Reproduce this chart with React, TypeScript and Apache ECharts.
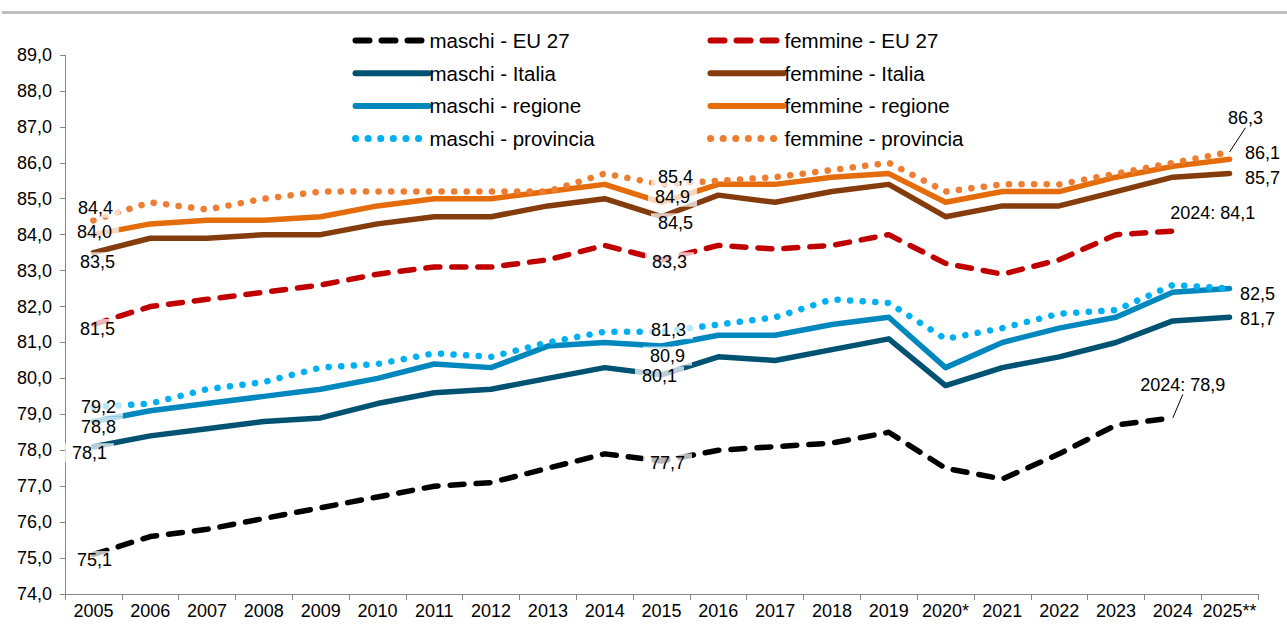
import React, { useEffect, useRef } from 'react';
import * as echarts from 'echarts';

const years = ['2005', '2006', '2007', '2008', '2009', '2010', '2011', '2012', '2013', '2014', '2015', '2016', '2017', '2018', '2019', '2020*', '2021', '2022', '2023', '2024', '2025**'];

const maschiEU = [75.1, 75.6, 75.8, 76.1, 76.4, 76.7, 77.0, 77.1, 77.5, 77.9, 77.7, 78.0, 78.1, 78.2, 78.5, 77.5, 77.2, 77.9, 78.7, 78.9, null];
const femmineEU = [81.5, 82.0, 82.2, 82.4, 82.6, 82.9, 83.1, 83.1, 83.3, 83.7, 83.3, 83.7, 83.6, 83.7, 84.0, 83.2, 82.9, 83.3, 84.0, 84.1, null];
const maschiItalia = [78.1, 78.4, 78.6, 78.8, 78.9, 79.3, 79.6, 79.7, 80.0, 80.3, 80.1, 80.6, 80.5, 80.8, 81.1, 79.8, 80.3, 80.6, 81.0, 81.6, 81.7];
const femmineItalia = [83.5, 83.9, 83.9, 84.0, 84.0, 84.3, 84.5, 84.5, 84.8, 85.0, 84.5, 85.1, 84.9, 85.2, 85.4, 84.5, 84.8, 84.8, 85.2, 85.6, 85.7];
const maschiRegione = [78.8, 79.1, 79.3, 79.5, 79.7, 80.0, 80.4, 80.3, 80.9, 81.0, 80.9, 81.2, 81.2, 81.5, 81.7, 80.3, 81.0, 81.4, 81.7, 82.4, 82.5];
const femmineRegione = [84.0, 84.3, 84.4, 84.4, 84.5, 84.8, 85.0, 85.0, 85.2, 85.4, 84.9, 85.4, 85.4, 85.6, 85.7, 84.9, 85.2, 85.2, 85.6, 85.9, 86.1];
const maschiProvincia = [79.2, 79.3, 79.7, 79.9, 80.3, 80.4, 80.7, 80.6, 81.0, 81.3, 81.3, 81.5, 81.7, 82.2, 82.1, 81.1, 81.4, 81.8, 81.9, 82.6, 82.5];
const femmineProvincia = [84.4, 84.9, 84.7, 85.0, 85.2, 85.2, 85.2, 85.2, 85.2, 85.7, 85.4, 85.5, 85.6, 85.8, 86.0, 85.2, 85.4, 85.4, 85.7, 86.0, 86.3];

const seriesNames = ['maschi - EU 27', 'femmine - EU 27', 'maschi - Italia', 'femmine - Italia', 'maschi - regione', 'femmine - regione', 'maschi - provincia', 'femmine - provincia'];

const FONT = '"Liberation Sans", Arial, sans-serif';
const fmt = (v: number) => v.toFixed(1).replace('.', ',');

type LabelSpec = { i: number; dx: number; dy: number; prefix?: string; guide?: boolean };

// label placement (style only)
const labelSpecs: Record<string, LabelSpec[]> = {
  'maschi - EU 27': [{ i: 0, dx: 1, dy: 6 }, { i: 10, dx: 6, dy: 2 }, { i: 19, dx: 10, dy: -33, prefix: '2024: ', guide: true }],
  'femmine - EU 27': [{ i: 0, dx: 4, dy: 4 }, { i: 10, dx: 8, dy: 2 }, { i: 19, dx: 40, dy: -18, prefix: '2024: ' }],
  'maschi - Italia': [{ i: 0, dx: -4, dy: 6 }, { i: 10, dx: -2, dy: 1 }, { i: 20, dx: 28, dy: 2 }],
  'femmine - Italia': [{ i: 0, dx: 4, dy: 9 }, { i: 10, dx: 14, dy: 6 }, { i: 20, dx: 33, dy: 4 }],
  'maschi - regione': [{ i: 0, dx: 5, dy: 5 }, { i: 10, dx: 6, dy: 10 }, { i: 20, dx: 28, dy: 5 }],
  'femmine - regione': [{ i: 0, dx: 1, dy: -3 }, { i: 10, dx: 11, dy: -5 }, { i: 20, dx: 33, dy: -6 }],
  'maschi - provincia': [{ i: 0, dx: 5, dy: 0 }, { i: 10, dx: 7, dy: -2 }],
  'femmine - provincia': [{ i: 0, dx: 2, dy: -12 }, { i: 10, dx: 14, dy: -7 }, { i: 20, dx: 16, dy: -34, guide: true }],
};

const styles: Record<string, { color: string; dash: any; width: number }> = {
  'maschi - EU 27': { color: '#000000', dash: [14, 12], width: 5.5 },
  'femmine - EU 27': { color: '#C00000', dash: [14, 12], width: 5.5 },
  'maschi - Italia': { color: '#005273', dash: 'solid', width: 5.5 },
  'femmine - Italia': { color: '#843C0C', dash: 'solid', width: 5.5 },
  'maschi - regione': { color: '#0087BD', dash: 'solid', width: 5.5 },
  'femmine - regione': { color: '#E46C0A', dash: 'solid', width: 5.5 },
  'maschi - provincia': { color: '#00B0F0', dash: [0.1, 12.5], width: 6.5 },
  'femmine - provincia': { color: '#ED7D31', dash: [0.1, 12.5], width: 6.5 },
};

const values: Record<string, (number | null)[]> = {
  'maschi - EU 27': maschiEU,
  'femmine - EU 27': femmineEU,
  'maschi - Italia': maschiItalia,
  'femmine - Italia': femmineItalia,
  'maschi - regione': maschiRegione,
  'femmine - regione': femmineRegione,
  'maschi - provincia': maschiProvincia,
  'femmine - provincia': femmineProvincia,
};

function buildData(vals: (number | null)[], specs: LabelSpec[]) {
  return vals.map((v, i) => {
    const s = specs.find((x) => x.i === i);
    if (!s || v == null) return v;
    const item: any = {
      value: v,
      symbol: 'circle',
      symbolSize: 0,
      label: {
        show: true,
        position: 'inside',
        offset: [s.dx, s.dy],
        formatter: (s.prefix ?? '') + fmt(v),
        backgroundColor: s.prefix ? 'transparent' : 'rgba(255,255,255,0.72)',
      },
    };
    if (s.guide) item.labelLine = { show: true, lineStyle: { color: '#000', width: 1 } };
    return item;
  });
}

export default function App() {
  const ref = useRef<HTMLDivElement>(null);
  useEffect(() => {
    if (!ref.current) return;
    const chart = echarts.init(ref.current, undefined, { renderer: 'svg' });
    const series = seriesNames.map((name, k) => {
      const st = styles[name];
      return {
        name,
        type: 'line',
        data: buildData(values[name], labelSpecs[name]),
        symbol: 'none',
        showSymbol: true,
        connectNulls: false,
        z: 2 + k * 0.01,
        lineStyle: { color: st.color, width: st.width, type: st.dash, cap: 'round', join: 'round' },
        itemStyle: { color: st.color },
        label: {
          show: false,
          fontSize: 18,
          color: '#000',
          fontFamily: FONT,
          padding: [1, 7, 0, 7],
          opacity: 1,
        },
        labelLine: { show: false },
        emphasis: { disabled: true },
      };
    });
    const legendItem = (name: string) => {
      const st = styles[name];
      return {
        name,
        lineStyle: { color: st.color, width: st.width + 0.5, type: st.dash, cap: 'round' },
      };
    };
    const legendBase = {
      orient: 'vertical',
      top: 25,
      itemWidth: 73,
      itemHeight: 20,
      itemGap: 11.7,
      selectedMode: false,
      itemStyle: { opacity: 0 },
      textStyle: { fontSize: 20.5, color: '#000', fontFamily: FONT, lineHeight: 20, padding: [0, 0, 0, -4] },
    };
    chart.setOption({
      animation: false,
      backgroundColor: '#ffffff',
      textStyle: { fontFamily: FONT },
      graphic: [
        { type: 'rect', shape: { x: 2, y: 11, width: 1285, height: 3 }, style: { fill: '#BFBFBF' }, silent: true },
      ],
      legend: [
        { ...legendBase, left: 347, data: seriesNames.filter((n) => n.startsWith('maschi')).map(legendItem) },
        { ...legendBase, left: 702, data: seriesNames.filter((n) => n.startsWith('femmine')).map(legendItem) },
      ],
      grid: { left: 65, right: 29, top: 55, bottom: 39, containLabel: false },
      xAxis: {
        type: 'category',
        data: years,
        boundaryGap: true,
        axisLine: { show: true, lineStyle: { color: '#868686', width: 1 } },
        axisTick: { show: true, alignWithLabel: false, length: 6, lineStyle: { color: '#868686' } },
        axisLabel: { interval: 0, fontSize: 18, color: '#000', margin: 8, fontFamily: FONT },
        splitLine: { show: false },
      },
      yAxis: {
        type: 'value',
        min: 74,
        max: 89,
        interval: 1,
        axisLine: { show: true, lineStyle: { color: '#868686', width: 1 } },
        axisTick: { show: true, length: 5, lineStyle: { color: '#868686' } },
        axisLabel: { fontSize: 18, color: '#000', margin: 13, fontFamily: FONT, formatter: (v: number) => fmt(v) },
        splitLine: { show: false },
      },
      series,
    });
    return () => chart.dispose();
  }, []);
  return <div ref={ref} style={{ position: 'absolute', left: 0, top: 0, width: 1287, height: 633 }} />;
}
